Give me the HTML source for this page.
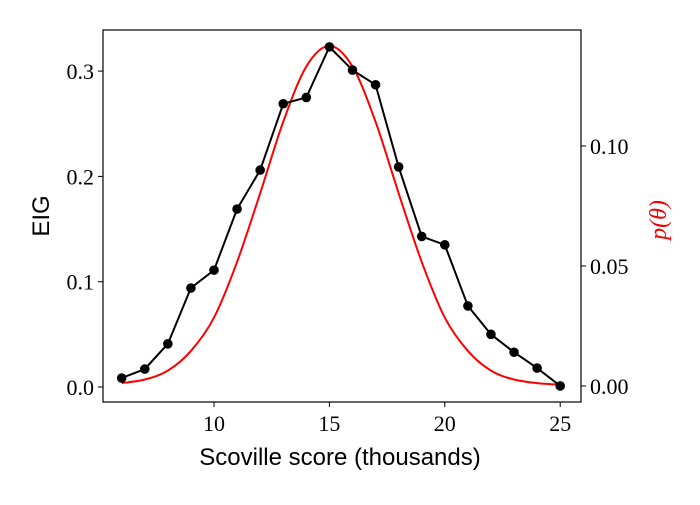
<!DOCTYPE html>
<html><head><meta charset="utf-8"><style>
body{margin:0;background:#fff}
svg text{font-family:"Liberation Serif",serif;font-size:22px;fill:#000}
</style></head><body>
<svg id="chart" width="700" height="500" viewBox="0 0 700 500">
<rect x="0" y="0" width="700" height="500" fill="#fff"/>
<g id="marks"></g>
<rect x="103" y="30" width="478" height="372" fill="none" stroke="#000" stroke-width="1.2"/>
<g id="axes"></g>
<text x="340" y="465" text-anchor="middle" style="font-family:'Liberation Sans',sans-serif;font-size:24px">Scoville score (thousands)</text>
<text x="0" y="0" transform="translate(49,216) rotate(-90)" text-anchor="middle" style="font-family:'Liberation Sans',sans-serif;font-size:24px">EIG</text>
<text x="0" y="0" transform="translate(666,220) rotate(-90)" text-anchor="middle" style="fill:#e00;font-style:italic;font-size:24px">p(θ)</text>
</svg>
<script>
const xs = [6,7,8,9,10,11,12,13,14,15,16,17,18,19,20,21,22,23,24,25];
const eig = [0.0085,0.017,0.041,0.094,0.111,0.169,0.206,0.269,0.275,0.323,0.301,0.287,0.209,0.143,0.135,0.077,0.050,0.033,0.018,0.001];
const prior = [0.0012,0.0027,0.0064,0.0146,0.0285,0.0517,0.0803,0.1101,0.1331,0.1417,0.1331,0.1101,0.0803,0.0517,0.0285,0.0146,0.0064,0.0027,0.0012,0.0005];
const xTicks = [10,15,20,25];
const leftTicks = [0.0,0.1,0.2,0.3];
const leftTickLabels = ["0.0","0.1","0.2","0.3"];
const rightTicks = [0,0.05,0.10];
const rightTickLabels = ["0.00","0.05","0.10"];

const sx = v => 214 + (v-10)*23.08;
const syL = v => 387 - v*1053;
const syR = v => 386 - v*2400;
const NS = "http://www.w3.org/2000/svg";
const marks = document.getElementById('marks');
const axes = document.getElementById('axes');
function mk(tag, attrs, parent){const e=document.createElementNS(NS,tag);for(const k in attrs)e.setAttribute(k,attrs[k]);parent.appendChild(e);return e;}

// prior curve (Catmull-Rom)
const pts = xs.map((x,i)=>[sx(x),syR(prior[i])]);
let d = `M${pts[0][0]},${pts[0][1]}`;
for(let i=0;i<pts.length-1;i++){
  const p0=pts[Math.max(0,i-1)],p1=pts[i],p2=pts[i+1],p3=pts[Math.min(pts.length-1,i+2)];
  d+=` C${p1[0]+(p2[0]-p0[0])/6},${p1[1]+(p2[1]-p0[1])/6} ${p2[0]-(p3[0]-p1[0])/6},${p2[1]-(p3[1]-p1[1])/6} ${p2[0]},${p2[1]}`;
}
const prLine = mk('path',{d:d,fill:'none',stroke:'#f00','stroke-width':2},marks);



const eLine = mk('polyline',{points:xs.map((x,i)=>sx(x)+','+syL(eig[i])).join(' '),fill:'none',stroke:'#000','stroke-width':2},marks);


xs.forEach((x,i)=>{
  const c = mk('circle',{cx:sx(x),cy:syL(eig[i]),r:4.8,fill:'#000'},marks);
  
  
});

xTicks.forEach(t=>{
  mk('line',{x1:sx(t),x2:sx(t),y1:402,y2:407,stroke:'#000'},axes);
  const tx = mk('text',{x:sx(t),y:431,'text-anchor':'middle'},axes);
  tx.textContent = t;
  
  
});
leftTicks.forEach((t,i)=>{
  mk('line',{x1:98,x2:103,y1:syL(t),y2:syL(t),stroke:'#000'},axes);
  const tx = mk('text',{x:94,y:syL(t)+8,'text-anchor':'end'},axes);
  tx.textContent = leftTickLabels[i];
  
  
});
rightTicks.forEach((t,i)=>{
  mk('line',{x1:581,x2:586,y1:syR(t),y2:syR(t),stroke:'#000'},axes);
  const tx = mk('text',{x:590,y:syR(t)+8,'text-anchor':'start'},axes);
  tx.textContent = rightTickLabels[i];
  
  
});
</script>
</body></html>
